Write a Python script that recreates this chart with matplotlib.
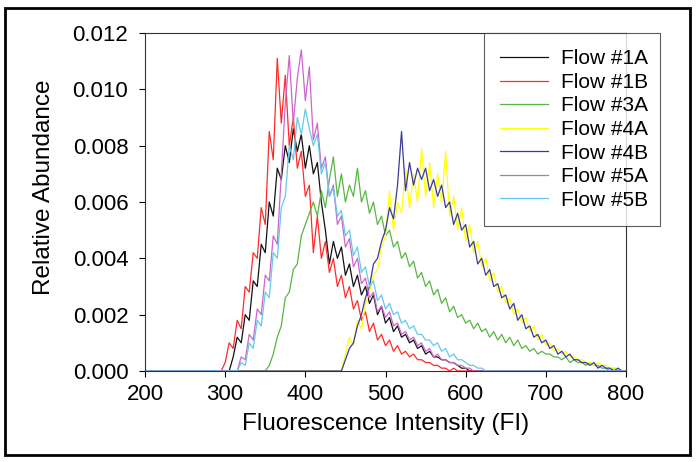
import numpy as np
import matplotlib
matplotlib.use("Agg")
import matplotlib.pyplot as plt
from matplotlib.patches import Rectangle

plt.rcParams['font.family'] = ['Liberation Sans', 'DejaVu Sans']

# Values in units of 1e-4 (relative abundance), sampled every 5 FI units
step = 5
x_range = (200, 800)

labels = ["Flow #1A", "Flow #1B", "Flow #3A", "Flow #4A", "Flow #4B", "Flow #5A", "Flow #5B"]
colors = ["#111111", "#ff2a2a", "#5ab545", "#ffff10", "#3a3a9c", "#cc66cc", "#66c8ea"]
starts = [305, 300, 350, 445, 445, 315, 315]

flow_1a = [0, 5, 12, 10, 20, 18, 32, 30, 45, 42, 60, 55, 72, 68, 80, 74, 86, 78, 84, 72,
           80, 70, 74, 60, 50, 38, 46, 40, 44, 34, 38, 30, 34, 27, 30, 24, 27, 20, 23, 17,
           19, 14, 16, 12, 13, 10, 11, 8, 9, 6, 7, 5, 5, 4, 4, 3, 3, 2, 1, 1, 0]
flow_1b = [3, 10, 8, 18, 15, 30, 28, 42, 40, 58, 52, 85, 75, 111, 88, 105, 80, 90, 72, 78,
           62, 66, 42, 55, 40, 46, 35, 40, 30, 34, 26, 30, 22, 25, 18, 21, 14, 17, 11, 13,
           9, 11, 7, 9, 6, 7, 5, 6, 4, 4, 3, 3, 2, 2, 1, 1, 0, 1, 0, 0, 0]
flow_3a = [0, 2, 6, 12, 16, 26, 28, 36, 38, 48, 52, 56, 60, 55, 64, 58, 68, 76, 62, 70,
           60, 66, 62, 72, 60, 64, 56, 60, 52, 55, 48, 50, 44, 46, 40, 42, 37, 39, 33, 35,
           30, 32, 27, 29, 24, 26, 21, 23, 19, 20, 17, 18, 15, 17, 14, 15, 12, 14, 11, 13,
           10, 12, 9, 11, 8, 9, 7, 8, 6, 7, 6, 6, 5, 5, 4, 5, 3, 4, 3, 3,
           2, 3, 2, 2, 1, 1, 0, 1, 0]
flow_4a = [0, 6, 12, 9, 18, 15, 24, 28, 34, 36, 44, 48, 64, 50, 60, 56, 72, 58, 70, 60,
           79, 62, 74, 58, 70, 60, 78, 55, 62, 50, 58, 46, 52, 42, 46, 37, 40, 32, 35, 28,
           30, 24, 26, 20, 22, 17, 19, 14, 16, 11, 13, 9, 10, 7, 8, 6, 7, 5, 5, 4,
           4, 3, 3, 2, 3, 2, 2, 1, 1, 1, 0]
flow_4b = [0, 4, 8, 10, 16, 20, 26, 30, 38, 40, 46, 50, 58, 54, 66, 85, 64, 74, 66, 72,
           68, 72, 64, 68, 62, 66, 58, 60, 52, 56, 50, 52, 44, 46, 38, 40, 34, 36, 30, 31,
           26, 27, 22, 24, 18, 20, 15, 16, 12, 13, 10, 11, 8, 9, 6, 7, 5, 6, 4, 4,
           3, 3, 2, 3, 1, 2, 1, 1, 0, 1, 0]
flow_5a = [0, 5, 4, 13, 11, 22, 20, 34, 32, 48, 45, 70, 95, 112, 88, 104, 114, 96, 108, 82,
           88, 72, 76, 62, 66, 52, 55, 44, 47, 37, 40, 31, 33, 26, 28, 21, 23, 19, 21, 16,
           17, 13, 14, 11, 12, 9, 10, 7, 8, 5, 6, 4, 4, 3, 3, 2, 2, 1, 1, 0, 0]
flow_5b = [0, 3, 2, 10, 8, 18, 16, 28, 26, 42, 40, 58, 62, 80, 75, 90, 84, 93, 86, 80,
           84, 70, 74, 62, 65, 55, 57, 48, 50, 41, 44, 35, 37, 30, 32, 25, 27, 22, 24, 20,
           21, 17, 18, 15, 16, 13, 13, 11, 11, 9, 10, 7, 8, 5, 6, 4, 4, 3, 2, 2,
           1, 1, 0]

series = [flow_1a, flow_1b, flow_3a, flow_4a, flow_4b, flow_5a, flow_5b]

fig = plt.figure(figsize=(6.96, 4.62), dpi=100)
ax = fig.add_axes([145/696, 1-371/462, 481/696, 338/462])

x_full = np.arange(x_range[0], x_range[1] + step, step)
for vals, start, col, lab in zip(series, starts, colors, labels):
    y = np.zeros(len(x_full))
    i0 = (start - x_range[0]) // step
    v = np.array(vals, dtype=float) * 1e-4
    n = min(len(v), len(x_full) - i0)
    y[i0:i0+n] = v[:n]
    ax.plot(x_full, y, color=col, lw=0.9, label=lab)

ax.set_xlim(200, 800)
ax.set_ylim(0, 0.012)
ax.set_xticks(np.arange(200, 801, 100))
ax.set_yticks(np.arange(0, 0.0121, 0.002))
ax.set_yticklabels([f"{v:.3f}" for v in np.arange(0, 0.0121, 0.002)])
ax.tick_params(axis='both', direction='out', length=4, width=0.8, labelsize=16)
ax.tick_params(axis='x', pad=5)
ax.tick_params(axis='y', pad=8)
for s in ax.spines.values():
    s.set_linewidth(0.8)
    s.set_color('#333333')

ax.set_xlabel("Fluorescence Intensity (FI)", fontsize=17.5, labelpad=6)
ax.set_ylabel("Relative Abundance", fontsize=17.5)
ax.yaxis.set_label_coords(-0.187, 0.544)

leg = ax.legend(loc='upper left', bbox_to_anchor=(0.7048, 0.0, 0.366, 1.0),
                mode='expand', borderaxespad=0,
                fontsize=15, frameon=True, fancybox=False, edgecolor='#333333',
                handlelength=2.3, handletextpad=0.6, labelspacing=0.22,
                borderpad=0.78)
leg.get_frame().set_linewidth(0.8)
leg.set_zorder(5)

fig.patches.append(Rectangle((5/696, 1-455/462), 685/696, 447/462, transform=fig.transFigure,
                             fill=False, edgecolor='black', linewidth=2))

fig.savefig("out.png", dpi=100)
